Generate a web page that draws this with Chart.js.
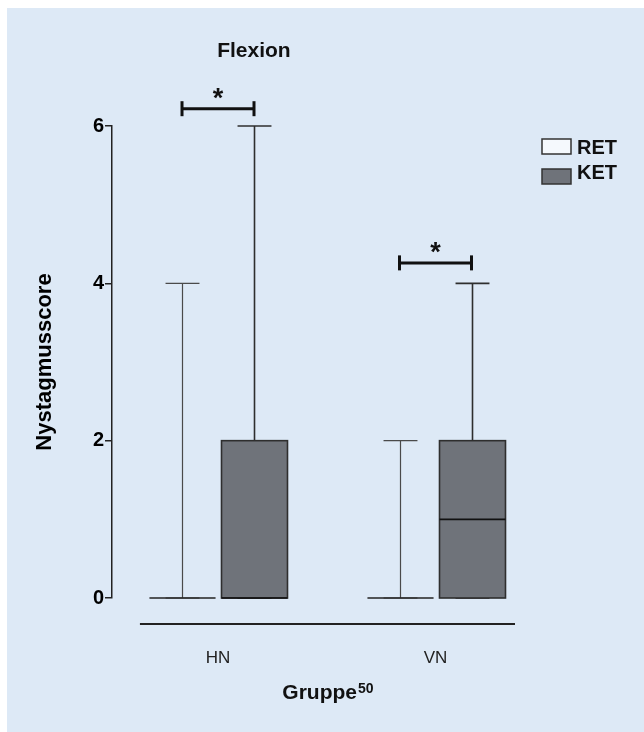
<!DOCTYPE html>
<html>
<head>
<meta charset="utf-8">
<script src="https://cdn.jsdelivr.net/npm/chart.js@4.4.1/dist/chart.umd.min.js"></script>
<style>
    html, body { margin: 0; padding: 0; background: #ffffff; }
    #panel { position: absolute; left: 7px; top: 8px; width: 637px; height: 724px; background: #dde9f6; }
    #flexionChart { position: absolute; left: 0; top: 0; }
</style>
</head>
<body>
<div id="panel"></div>
<canvas id="flexionChart" width="644" height="732"></canvas>
<script>
// groups on the x axis and the two series
const groups = ["HN", "VN"];
const groupPos = [1, 2];
const seriesNames = ["RET", "KET"];

// five number summaries
const retMin = [0, 0];
const retQ1 = [0, 0];
const retMedian = [0, 0];
const retQ3 = [0, 0];
const retMax = [4, 2];

const ketMin = [0, 0];
const ketQ1 = [0, 0];
const ketMedian = [0, 1];
const ketQ3 = [2, 2];
const ketMax = [6, 4];

// significance brackets (RET vs KET) per group
const sigLevel = [6.22, 4.26];
const sigLabel = ["*", "*"];

const yTicks = [0, 2, 4, 6];

Chart.defaults.font.family = "'Liberation Sans', Arial, sans-serif";
Chart.defaults.color = "#000000";

const FONT = "'Liberation Sans', Arial, sans-serif";

const seriesStyle = [
    { fill: "#f5f9fd", stroke: "#4a4a4a", width: 1.2 },
    { fill: "#6f737a", stroke: "#2e2e2e", width: 1.6 }
];
const seriesOffset = [-0.1655, 0.1655];
const boxWidth = 0.3034;
const capWidth = 0.156;
const axisStart = 0.641;

function seriesStats(s) {
    if (s === 0) return { min: retMin, q1: retQ1, med: retMedian, q3: retQ3, max: retMax };
    return { min: ketMin, q1: ketQ1, med: ketMedian, q3: ketQ3, max: ketMax };
}

function hLine(ctx, x1, x2, y) {
    ctx.beginPath();
    ctx.moveTo(x1, y);
    ctx.lineTo(x2, y);
    ctx.stroke();
}

function vLine(ctx, x, y1, y2) {
    ctx.beginPath();
    ctx.moveTo(x, y1);
    ctx.lineTo(x, y2);
    ctx.stroke();
}

const boxPlotPlugin = {
    id: "boxPlot",
    afterDatasetsDraw(chart) {
        const ctx = chart.ctx;
        const xs = chart.scales.x;
        const ys = chart.scales.y;
        const unit = xs.getPixelForValue(1) - xs.getPixelForValue(0);
        const halfBox = unit * boxWidth / 2;
        const halfCap = unit * capWidth / 2;

        ctx.save();
        seriesNames.forEach((name, s) => {
            const st = seriesStats(s);
            const style = seriesStyle[s];
            groupPos.forEach((g, i) => {
                const cx = Math.round(xs.getPixelForValue(g + seriesOffset[s])) + 0.5;
                const yMin = ys.getPixelForValue(st.min[i]);
                const yQ1 = ys.getPixelForValue(st.q1[i]);
                const yMed = ys.getPixelForValue(st.med[i]);
                const yQ3 = ys.getPixelForValue(st.q3[i]);
                const yMax = ys.getPixelForValue(st.max[i]);

                ctx.strokeStyle = style.stroke;
                ctx.lineWidth = style.width;
                // whiskers + caps
                vLine(ctx, cx, yQ3, yMax);
                vLine(ctx, cx, yMin, yQ1);
                hLine(ctx, cx - halfCap, cx + halfCap, yMax);
                hLine(ctx, cx - halfCap, cx + halfCap, yMin);

                // box
                if (yQ1 - yQ3 > 0.5) {
                    ctx.fillStyle = style.fill;
                    ctx.fillRect(cx - halfBox, yQ3, halfBox * 2, yQ1 - yQ3);
                    ctx.strokeRect(cx - halfBox, yQ3, halfBox * 2, yQ1 - yQ3);
                } else {
                    hLine(ctx, cx - halfBox, cx + halfBox, yQ1);
                }
                // median
                ctx.strokeStyle = "#111111";
                hLine(ctx, cx - halfBox, cx + halfBox, yMed);
            });
        });

        // significance brackets
        ctx.strokeStyle = "#111111";
        ctx.fillStyle = "#111111";
        ctx.lineWidth = 3;
        groupPos.forEach((g, i) => {
            const x1 = xs.getPixelForValue(g + seriesOffset[0]);
            const x2 = xs.getPixelForValue(g + seriesOffset[1]);
            const yb = ys.getPixelForValue(sigLevel[i]);
            hLine(ctx, x1, x2, yb);
            vLine(ctx, x1, yb - 7.5, yb + 7.5);
            vLine(ctx, x2, yb - 7.5, yb + 7.5);
            ctx.font = "bold 27px " + FONT;
            ctx.textAlign = "center";
            ctx.textBaseline = "alphabetic";
            ctx.fillText(sigLabel[i], (x1 + x2) / 2, yb - 2);
        });

        // detached x axis line
        const area = chart.chartArea;
        const axisY = area.bottom + 26;
        const axL = xs.getPixelForValue(axisStart);
        ctx.strokeStyle = "#222222";
        ctx.lineWidth = 2;
        hLine(ctx, axL, area.right, axisY);

        // x title with superscript
        const mid = (axL + area.right) / 2;
        ctx.fillStyle = "#111111";
        ctx.textAlign = "left";
        ctx.font = "bold 21px " + FONT;
        const mainW = ctx.measureText("Gruppe").width;
        ctx.font = "bold 14px " + FONT;
        const supW = ctx.measureText("50").width;
        const startX = mid - (mainW + supW) / 2;
        ctx.font = "bold 21px " + FONT;
        ctx.fillText("Gruppe", startX, 699);
        ctx.font = "bold 14px " + FONT;
        ctx.fillText("50", startX + mainW + 1, 693);

        // chart title
        ctx.font = "bold 21px " + FONT;
        ctx.textAlign = "center";
        ctx.fillText("Flexion", xs.getPixelForValue(1.165), 57);

        // legend
        ctx.font = "bold 20px " + FONT;
        ctx.textAlign = "left";
        seriesNames.forEach((name, s) => {
            const top = 139 + s * 30;
            ctx.fillStyle = seriesStyle[s].fill;
            ctx.fillRect(542, top, 29, 15);
            ctx.strokeStyle = "#333333";
            ctx.lineWidth = 1.5;
            ctx.strokeRect(542, top, 29, 15);
            ctx.fillStyle = "#111111";
            ctx.fillText(name, 577, top + 15 - s * 5);
        });
        ctx.restore();
    }
};

const canvas = document.getElementById("flexionChart");

new Chart(canvas, {
    type: "scatter",
    data: {
        datasets: seriesNames.map((name, s) => ({
            label: name,
            data: groupPos.map((g, i) => ({ x: g + seriesOffset[s], y: seriesStats(s).med[i] })),
            pointRadius: 0,
            pointHoverRadius: 0
        }))
    },
    options: {
        responsive: false,
        animation: false,
        devicePixelRatio: 1,
        layout: {
            padding: { top: 126, right: 129, bottom: 0, left: 0 }
        },
        plugins: {
            legend: { display: false },
            title: { display: false },
            tooltip: { enabled: false }
        },
        scales: {
            x: {
                type: "linear",
                min: 0.5126,
                max: 2.3655,
                border: { display: false },
                grid: { display: false, drawTicks: false },
                afterBuildTicks: (scale) => {
                    scale.ticks = groupPos.map(v => ({ value: v }));
                },
                afterFit: (scale) => {
                    scale.height = 134;
                },
                ticks: {
                    padding: 50,
                    color: "#222222",
                    autoSkip: false,
                    maxRotation: 0,
                    font: { size: 17 },
                    callback: (value) => groups[groupPos.indexOf(value)]
                }
            },
            y: {
                min: yTicks[0],
                max: yTicks[yTicks.length - 1],
                afterBuildTicks: (scale) => {
                    scale.ticks = yTicks.map(v => ({ value: v }));
                },
                afterFit: (scale) => {
                    scale.width = 112;
                },
                ticks: {
                    padding: 1,
                    color: "#000000",
                    font: { size: 20, weight: "bold" }
                },
                grid: {
                    drawOnChartArea: false,
                    tickLength: 7,
                    color: "#222222",
                    lineWidth: 1.5
                },
                border: { color: "#222222", width: 1.5 },
                title: {
                    display: true,
                    text: "Nystagmusscore",
                    color: "#000000",
                    font: { size: 22, weight: "bold" },
                    padding: { top: 32, bottom: 0 }
                }
            }
        }
    },
    plugins: [boxPlotPlugin]
});
</script>
</body>
</html>
